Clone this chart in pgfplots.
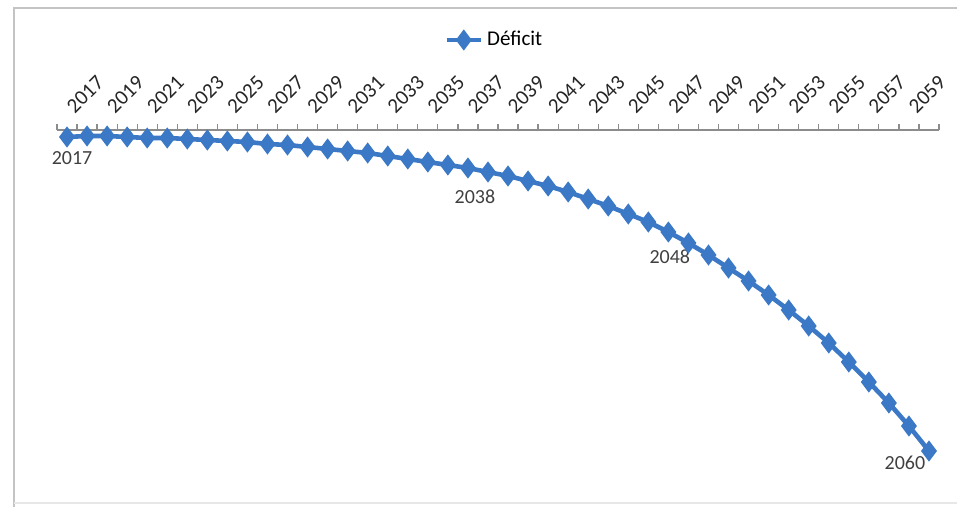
\documentclass[border=0pt]{standalone}
\usepackage{fontspec}
\setmainfont{Carlito}
\usepackage{pgfplots}
\pgfplotsset{compat=1.18}
\definecolor{serieblue}{HTML}{3B78C6}
\definecolor{axgray}{HTML}{8C8C8C}
\definecolor{framegray}{HTML}{C4C4C4}
\definecolor{labgray}{HTML}{404040}
\begin{document}
\begin{tikzpicture}
\path[use as bounding box] (0pt,0pt) rectangle (478.5pt,-253.5pt);
\draw[framegray, line width=1.2pt] (7pt,-253.5pt) -- (7pt,-4pt) -- (478.5pt,-4pt);
\draw[framegray!40, line width=0.6pt] (7pt,-251.5pt) -- (478.5pt,-251.5pt);
\begin{axis}[
 at={(28.5pt,-65pt)}, anchor=north west,
 scale only axis, width=441pt, height=180pt,
 xmin=2016.5, xmax=2060.5, ymin=-360, ymax=0,
 axis x line=top, axis y line=none,
 x axis line style={-, draw=axgray, line width=0.8pt},
 xtick={2017,2019,...,2059},
 minor xtick={2016.5,2017.5,...,2060.5},
 major tick length=0pt, minor tick length=2.8pt,
 xtick align=outside,
 tick style={axgray, line width=0.6pt},
 xticklabel style={xshift=4pt, yshift=7.5pt, rotate=45, anchor=south west, font=\fontsize{10.5}{12}\selectfont, text=black!85, inner sep=0pt, /pgf/number format/1000 sep={}},
 /pgf/number format/assume math mode=true,
 legend style={at={(0.497,1.25)}, anchor=center, draw=none, fill=none, font=\fontsize{10.5}{12}\selectfont},
 legend cell align=left,
 clip=false,
]
\addplot[serieblue, line width=2.3pt, mark=diamond*, mark size=3.4pt] coordinates {
(2017,-7) (2018,-6) (2019,-6) (2020,-7) (2021,-8) (2022,-8) (2023,-9) (2024,-10)
(2025,-11) (2026,-12) (2027,-14) (2028,-15) (2029,-17) (2030,-19) (2031,-21)
(2032,-23) (2033,-26) (2034,-29) (2035,-32) (2036,-35) (2037,-38) (2038,-42)
(2039,-46) (2040,-51) (2041,-56) (2042,-62) (2043,-69) (2044,-76) (2045,-84)
(2046,-92) (2047,-102) (2048,-113) (2049,-125) (2050,-138) (2051,-151)
(2052,-165) (2053,-180) (2054,-196) (2055,-213) (2056,-232) (2057,-252)
(2058,-273) (2059,-296) (2060,-321)
};
\addlegendentry{Déficit}
\node[font=\fontsize{10}{12}\selectfont, text=labgray] at (axis cs:2017.25,-28) {2017};
\node[font=\fontsize{10}{12}\selectfont, text=labgray] at (axis cs:2037.35,-67) {2038};
\node[font=\fontsize{10}{12}\selectfont, text=labgray] at (axis cs:2047.07,-127) {2048};
\node[font=\fontsize{10}{12}\selectfont, text=labgray] at (axis cs:2058.8,-333) {2060};
\end{axis}
\end{tikzpicture}
\end{document}
